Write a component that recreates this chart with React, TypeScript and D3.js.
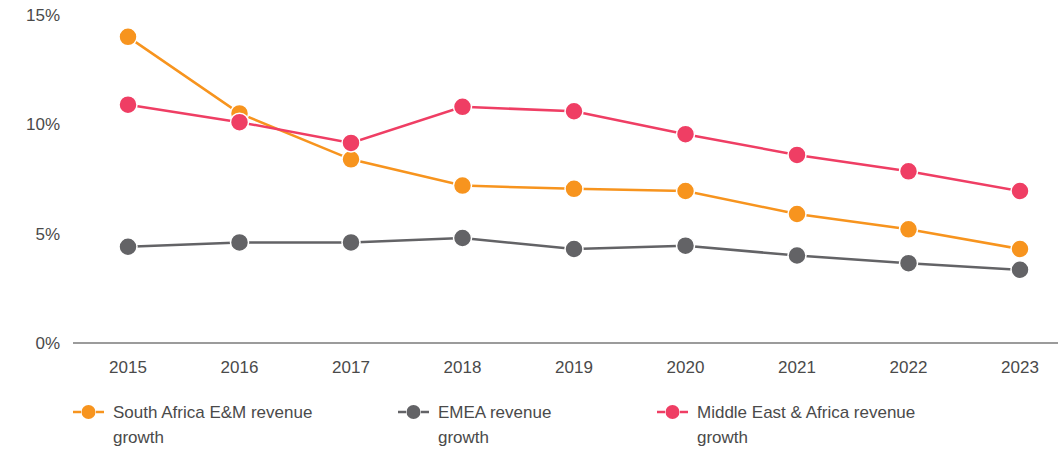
import React, { useRef, useEffect } from 'react'
import { select, scalePoint, scaleLinear, line } from 'd3'

const years = ['2015', '2016', '2017', '2018', '2019', '2020', '2021', '2022', '2023']
const southAfrica = [14.0, 10.5, 8.4, 7.2, 7.05, 6.95, 5.9, 5.2, 4.3]
const emea = [4.4, 4.6, 4.6, 4.8, 4.3, 4.45, 4.0, 3.65, 3.35]
const middleEast = [10.9, 10.1, 9.15, 10.8, 10.6, 9.55, 8.6, 7.85, 6.95]
const yTicks = [0, 5, 10, 15]

const seriesNames = ['South Africa E&M revenue|growth', 'EMEA revenue|growth', 'Middle East & Africa revenue|growth']
const colors = ['#F7941E', '#636366', '#EF3E64']

export default function App() {
  const canvas = useRef(null)
  const width = 1058
  const height = 450

  useEffect(() => {
    const svg = select(canvas.current)
    svg.selectAll('*').remove()
    const font = "'Liberation Sans', Arial, sans-serif"

    const x = scalePoint().domain(years).range([128, 1020])
    const y = scaleLinear().domain([0, 15]).range([343, 15])

    // y labels
    svg.append('g').selectAll('text').data(yTicks).join('text')
      .attr('x', 60).attr('y', d => y(d) + 6)
      .attr('text-anchor', 'end').attr('font-family', font).attr('font-size', 17).attr('fill', '#4a4a4a')
      .text(d => d + '%')

    // x axis line
    svg.append('line').attr('x1', 73).attr('x2', 1058).attr('y1', y(0)).attr('y2', y(0))
      .attr('stroke', '#7a7a7a').attr('stroke-width', 1.5)

    svg.append('g').selectAll('text').data(years).join('text')
      .attr('x', d => x(d)).attr('y', 373)
      .attr('text-anchor', 'middle').attr('font-family', font).attr('font-size', 17).attr('fill', '#4a4a4a')
      .text(d => d)

    const all = [southAfrica, emea, middleEast]
    const lineGen = line<number>().x((d, i) => x(years[i])).y(d => y(d))

    all.forEach((vals, k) => {
      svg.append('path').datum(vals).attr('d', lineGen)
        .attr('fill', 'none').attr('stroke', colors[k]).attr('stroke-width', 2.5)
    })
    all.forEach((vals, k) => {
      svg.append('g').selectAll('circle').data(vals).join('circle')
        .attr('cx', (d, i) => x(years[i])).attr('cy', d => y(d)).attr('r', 9)
        .attr('fill', colors[k]).attr('stroke', '#fff').attr('stroke-width', 1.5)
    })

    // legend
    const legX = [73, 398, 657]
    seriesNames.forEach((name, k) => {
      const g = svg.append('g').attr('transform', `translate(${legX[k]}, 412)`)
      g.append('line').attr('x1', 0).attr('x2', 8).attr('y1', 0).attr('y2', 0).attr('stroke', colors[k]).attr('stroke-width', 2.5)
      g.append('line').attr('x1', 23).attr('x2', 31).attr('y1', 0).attr('y2', 0).attr('stroke', colors[k]).attr('stroke-width', 2.5)
      g.append('circle').attr('cx', 15.5).attr('cy', 0).attr('r', 7).attr('fill', colors[k])
      const lines = name.split('|')
      lines.forEach((t, j) => {
        g.append('text').attr('x', 40).attr('y', 6 + j * 25)
          .attr('font-family', font).attr('font-size', 17).attr('fill', '#4a4a4a').text(t)
      })
    })
  }, [])

  return (
    <svg ref={canvas} width={width} height={height} style={{ position: 'absolute', left: 0, top: 0 }} />
  )
}
